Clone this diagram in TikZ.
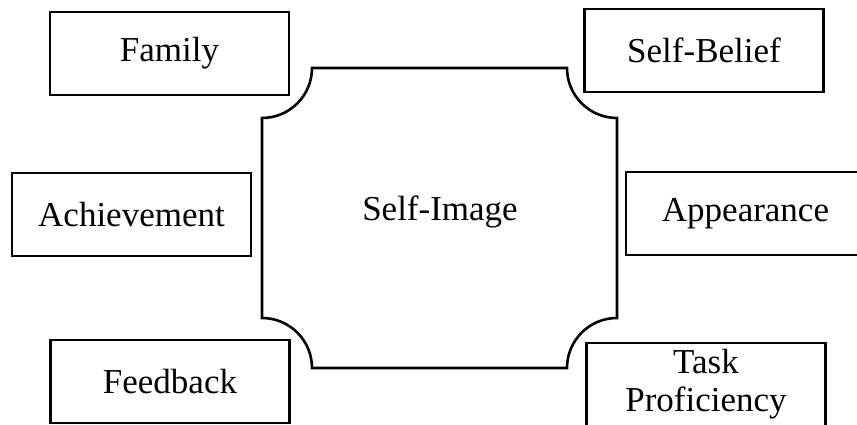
\documentclass[tikz,border=0pt]{standalone}
\usepackage{fontspec}
\setmainfont{Liberation Serif}
\begin{document}
\begin{tikzpicture}[x=1pt,y=1pt,
  outline/.style={line width=2.6pt},
  factor/.style={draw,outline,rectangle,minimum width=239pt,minimum height=83pt,
    inner sep=0pt,outer sep=0pt,align=center,font=\fontsize{35}{38}\selectfont},
  label/.style={font=\fontsize{35}{38}\selectfont,inner sep=0pt}]
\useasboundingbox (0,0) rectangle (857,425);
\clip (0,0) rectangle (857,425);
\fill[white] (0,0) rectangle (857,425);

% central plaque with concave corners
\draw[outline,line join=miter]
  (312,357) -- (567,357) arc[start angle=180,end angle=270,radius=50]
  -- (617,107) arc[start angle=90,end angle=180,radius=50]
  -- (312,57) arc[start angle=0,end angle=90,radius=50]
  -- (262,307) arc[start angle=270,end angle=360,radius=50] -- cycle;
\node[label] (self) at (440,213) {Self-Image};

% surrounding factors
\node[factor] (family)  at (169.5,371.5) {Family};
\node[factor] (achieve) at (131.5,210.5) {Achievement};
\node[factor] (feed)    at (170,43.5)    {Feedback};
\node[factor] (belief)  at (704,374.5)   {Self-Belief};
\node[factor] (appear)  at (745.5,211.5) {Appearance};
\node[factor] (task)    at (706,40.5)    {Task\\Proficiency};
\end{tikzpicture}
\end{document}
